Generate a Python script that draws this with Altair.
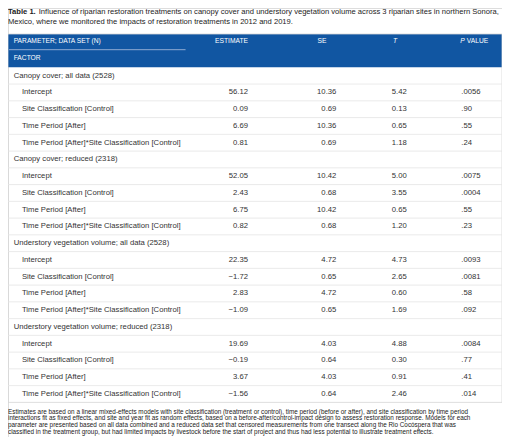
import altair as alt
import pandas as pd

# ---------------- data ----------------
title_bold = "Table 1."
title_line1 = ("Influence of riparian restoration treatments on canopy cover and understory vegetation "
               "volume across 3 riparian sites in northern Sonora,")
title_line2 = "Mexico, where we monitored the impacts of restoration treatments in 2012 and 2019."

header_param = "PARAMETER; DATA SET (N)"
header_factor = "FACTOR"
header_est = "ESTIMATE"
header_se = "SE"
header_t = "T"
header_p = "P"
header_value = "VALUE"

groups = [
    "Canopy cover; all data (2528)",
    "Canopy cover; reduced (2318)",
    "Understory vegetation volume; all data (2528)",
    "Understory vegetation volume; reduced (2318)",
]
factors = [
    "Intercept",
    "Site Classification [Control]",
    "Time Period [After]",
    "Time Period [After]*Site Classification [Control]",
]
estimates = [
    [56.12, 0.09, 6.69, 0.81],
    [52.05, 2.43, 6.75, 0.82],
    [22.35, -1.72, 2.83, -1.09],
    [19.69, -0.19, 3.67, -1.56],
]
std_errors = [
    [10.36, 0.69, 10.36, 0.69],
    [10.42, 0.68, 10.42, 0.68],
    [4.72, 0.65, 4.72, 0.65],
    [4.03, 0.64, 4.03, 0.64],
]
t_values = [
    [5.42, 0.13, 0.65, 1.18],
    [5.00, 3.55, 0.65, 1.20],
    [4.73, 2.65, 0.60, 1.69],
    [4.88, 0.30, 0.91, 2.46],
]
p_values = [
    [".0056", ".90", ".55", ".24"],
    [".0075", ".0004", ".55", ".23"],
    [".0093", ".0081", ".58", ".092"],
    [".0084", ".77", ".41", ".014"],
]
footnote_lines = [
    "Estimates are based on a linear mixed-effects models with site classification (treatment or control), time period (before or after), and site classification by time period",
    "interactions fit as fixed effects, and site and year fit as random effects, based on a before-after/control-impact design to assess restoration response. Models for each",
    "parameter are presented based on all data combined and a reduced data set that censored measurements from one transect along the Rio Cocóspera that was",
    "classified in the treatment group, but had limited impacts by livestock before the start of project and thus had less potential to illustrate treatment effects.",
]

# ---------------- table frame ----------------
def fmt(v):
    return f"{v:.2f}".replace("-", "\u2212")

rows = []
r = 0
for gi, g in enumerate(groups):
    rows.append(dict(r=r, kind="group", label=g, est="", se="", t="", p=""))
    r += 1
    for fi, f in enumerate(factors):
        rows.append(dict(r=r, kind="factor", label=f,
                         est=fmt(estimates[gi][fi]), se=fmt(std_errors[gi][fi]),
                         t=fmt(t_values[gi][fi]), p=p_values[gi][fi]))
        r += 1
rows_df = pd.DataFrame(rows)
n_rows = len(rows_df)
bounds_df = pd.DataFrame({"b": [i + 0.5 for i in range(n_rows - 1)]})

# ---------------- layout / style ----------------
W, H = 494, 429
FONT = "Liberation Sans"
BLUE = "#1156a2"
TXT = "#333333"
GRID = "#e4e4e4"

def X(ref):
    return (ref - 6) * W / 498.0

def Yp(ref):
    return ref - 5.0

ROW0, ROWN = Yp(72.7), Yp(391.0)
STEP = (ROWN - ROW0) / (n_rows - 1)
yscale = alt.Scale(domain=[0, n_rows - 1], range=[ROW0, ROWN])
one = pd.DataFrame({"k": [0]})

def label(text, x, y, size, align="left", color=TXT, weight="normal", style="normal"):
    return alt.Chart(pd.DataFrame({"txt": [text]})).mark_text(
        align=align, baseline="middle", font=FONT, fontSize=size, color=color,
        fontWeight=weight, fontStyle=style
    ).encode(x=alt.value(x), y=alt.value(y), text="txt:N")

layers = []

# header background
layers.append(alt.Chart(one).mark_rect(color=BLUE).encode(
    x=alt.value(0), x2=alt.value(W), y=alt.value(Yp(31)), y2=alt.value(ROW0 - STEP / 2)))
# table outline
layers.append(alt.Chart(one).mark_rect(filled=False, stroke="#d6d6d6", strokeWidth=0.8).encode(
    x=alt.value(0), x2=alt.value(W), y=alt.value(Yp(31)), y2=alt.value(ROWN + STEP / 2)))
# header sub-line
layers.append(alt.Chart(one).mark_rule(color="#8fabd2", strokeWidth=1).encode(
    x=alt.value(X(7)), x2=alt.value(X(185)), y=alt.value(Yp(46.7))))
# row separators
layers.append(alt.Chart(bounds_df).mark_rule(color=GRID, strokeWidth=0.8).encode(
    y=alt.Y("b:Q", scale=yscale, axis=None), x=alt.value(0), x2=alt.value(W)))

# header labels
HS = 6.7
HY = Yp(37.5)
layers += [
    label(header_param, X(11.7), HY, HS, color="white"),
    label(header_factor, X(11.7), Yp(55), HS, color="white"),
    label(header_est, X(248), HY, HS, align="right", color="white"),
    label(header_se, X(318), HY, HS, color="white"),
    label(header_t, X(394), HY, HS, color="white", style="italic"),
    label(header_p, X(462), HY, HS, color="white", style="italic"),
    label(header_value, X(468.5), HY, HS, color="white"),
]

BS = 7.7
base = alt.Chart(rows_df)
ycode = alt.Y("r:Q", scale=yscale, axis=None)
layers.append(base.transform_filter(alt.datum.kind == "group").mark_text(
    align="left", baseline="middle", font=FONT, fontSize=BS, color=TXT
).encode(x=alt.value(X(11.7)), y=ycode, text="label:N"))
layers.append(base.transform_filter(alt.datum.kind == "factor").mark_text(
    align="left", baseline="middle", font=FONT, fontSize=BS, color=TXT
).encode(x=alt.value(X(20)), y=ycode, text="label:N"))
for col, xr, al in [("est", 248, "right"), ("se", 337, "right"), ("t", 408, "right"), ("p", 463, "left")]:
    layers.append(base.transform_filter(alt.datum.kind == "factor").mark_text(
        align=al, baseline="middle", font=FONT, fontSize=BS, color=TXT
    ).encode(x=alt.value(X(xr)), y=ycode, text=f"{col}:N"))

# title
TS = 7.6
layers += [
    label(title_bold, 0, Yp(8.5), TS, weight="bold", color="#222222"),
    label(title_line1, X(37), Yp(8.5), TS, color="#222222"),
    label(title_line2, 0, Yp(19.3), TS, color="#222222"),
]

# footnote
layers.append(alt.Chart(pd.DataFrame({"txt": ["\n".join(footnote_lines)]})).mark_text(
    align="left", baseline="top", font=FONT, fontSize=6.35, color="#222222",
    lineBreak="\n", lineHeight=6.75
).encode(x=alt.value(0), y=alt.value(Yp(409) - 3.4), text="txt:N"))

chart = alt.layer(*layers).properties(
    width=W, height=H, padding=0,
    autosize=alt.AutoSizeParams(type="none"),
).configure_view(stroke=None).configure(background="white")

chart.save("out.html", embed_options={"renderer": "svg", "actions": False})
